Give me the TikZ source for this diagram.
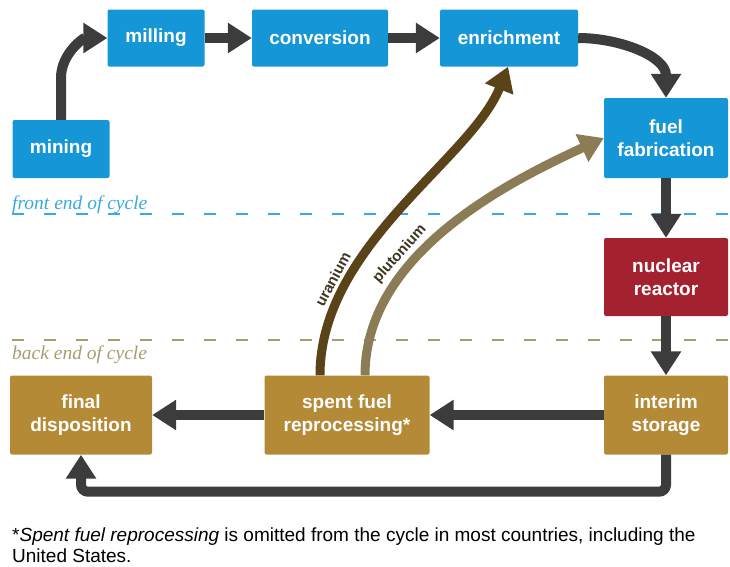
\documentclass[tikz,border=0pt]{standalone}
\usepackage{fontspec}
\setmainfont{Liberation Sans}
\newfontfamily\cyclefont{Liberation Serif}
\usetikzlibrary{arrows.meta, positioning}

\definecolor{stageblue}{HTML}{1596D6}
\definecolor{stagered}{HTML}{A4222F}
\definecolor{stagegold}{HTML}{B58A37}
\definecolor{flowgray}{HTML}{3C3C3C}
\definecolor{uranbrown}{HTML}{5A4318}
\definecolor{plutbrown}{HTML}{8C7C55}
\definecolor{frontblue}{HTML}{3AA9DE}
\definecolor{backolive}{HTML}{A89C72}
\definecolor{flowtext}{HTML}{3E3522}

\tikzset{
  stage/.style={rounded corners=2pt, text=white, inner sep=0pt, align=center,
    font=\fontsize{19}{23}\selectfont\bfseries},
  flow/.style={line width=10pt, draw=flowgray, -{Triangle[width=29pt,length=24pt]}},
  flowlabel/.style={sloped, above, inner sep=3pt, text=flowtext,
    font=\fontsize{15}{18}\selectfont\bfseries},
  cycleline/.style={dashed, line width=2pt, dash pattern=on 12pt off 20pt},
}

\begin{document}
\begin{tikzpicture}[x=1pt, y=1pt]
		\useasboundingbox (0,0) rectangle (730,-566);

		% front end stages
		\node[stage, fill=stageblue, minimum width=97pt, minimum height=58pt] (mining) at (61,-149) {mining};
		\node[stage, fill=stageblue, minimum width=97pt, minimum height=57pt] (milling) at (156,-38) {milling};
		\node[stage, fill=stageblue, minimum width=136pt, minimum height=57pt] (conversion) at (320,-38) {conversion};
		\node[stage, fill=stageblue, minimum width=138pt, minimum height=57pt] (enrichment) at (509,-38) {enrichment};
		\node[stage, fill=stageblue, minimum width=124pt, minimum height=80pt] (fab) at (666,-138) {fuel\\fabrication};

		% reactor
		\node[stage, fill=stagered, minimum width=124pt, minimum height=78pt] (reactor) at (666,-277) {nuclear\\reactor};

		% back end stages
		\node[stage, fill=stagegold, minimum width=124pt, minimum height=79pt] (interim) at (666,-415) {interim\\storage};
		\node[stage, fill=stagegold, minimum width=165pt, minimum height=79pt] (spent) at (347,-415) {spent fuel\\reprocessing*};
		\node[stage, fill=stagegold, minimum width=142pt, minimum height=79pt] (final) at (81,-415) {final\\disposition};

		% cycle divisions
		\draw[cycleline, draw=frontblue] (12,-214) -- (730,-214);
		\node[anchor=base west, inner sep=0pt, text=frontblue, font=\cyclefont\itshape\fontsize{19.5}{20}\selectfont] (front) at (12,-209) {front end of cycle};
		\draw[cycleline, draw=backolive] (12,-340) -- (730,-340);
		\node[anchor=base west, inner sep=0pt, text=backolive, font=\cyclefont\itshape\fontsize{19.5}{20}\selectfont] (back) at (12,-359) {back end of cycle};

		% main flow
		\draw[flow] (mining.north) -- ++(0,42) to[out=90,in=180] (milling.west);
		\draw[flow] (milling) -- (conversion);
		\draw[flow] (conversion) -- (enrichment);
		\draw[flow] (enrichment.east) to[out=0,in=90] (fab.north);
		\draw[flow] (fab) -- (reactor);
		\draw[flow] (reactor) -- (interim);
		\draw[flow] (interim) -- (spent);
		\draw[flow] (spent) -- (final);
		\draw[flow, rounded corners=7pt] (interim.south) -- ++(0,-37) -| (final.south);

		% recycled material
		\draw[flow, line width=9pt, draw=uranbrown] ([xshift=-27pt]spent.north)
			.. controls ++(0,130) and ([shift={(-38pt,-93pt)}]enrichment.south) .. node[flowlabel, pos=0.25] (uranium) {uranium}
			([xshift=-1pt]enrichment.south);
		\draw[flow, line width=9pt, draw=plutbrown] ([xshift=18pt]spent.north)
			.. controls ++(0,120) and ([shift={(-100pt,-46pt)}]fab.west) .. node[flowlabel, pos=0.36] (plutonium) {plutonium}
			(fab.west);

		% footnote
		\node[anchor=base west, inner sep=0pt, align=left, font=\fontsize{19}{21}\selectfont] (note) at (12,-562)
			{*\textit{Spent fuel reprocessing} is omitted from the cycle in most countries, including the\\United States.};
	\end{tikzpicture}
\end{document}
